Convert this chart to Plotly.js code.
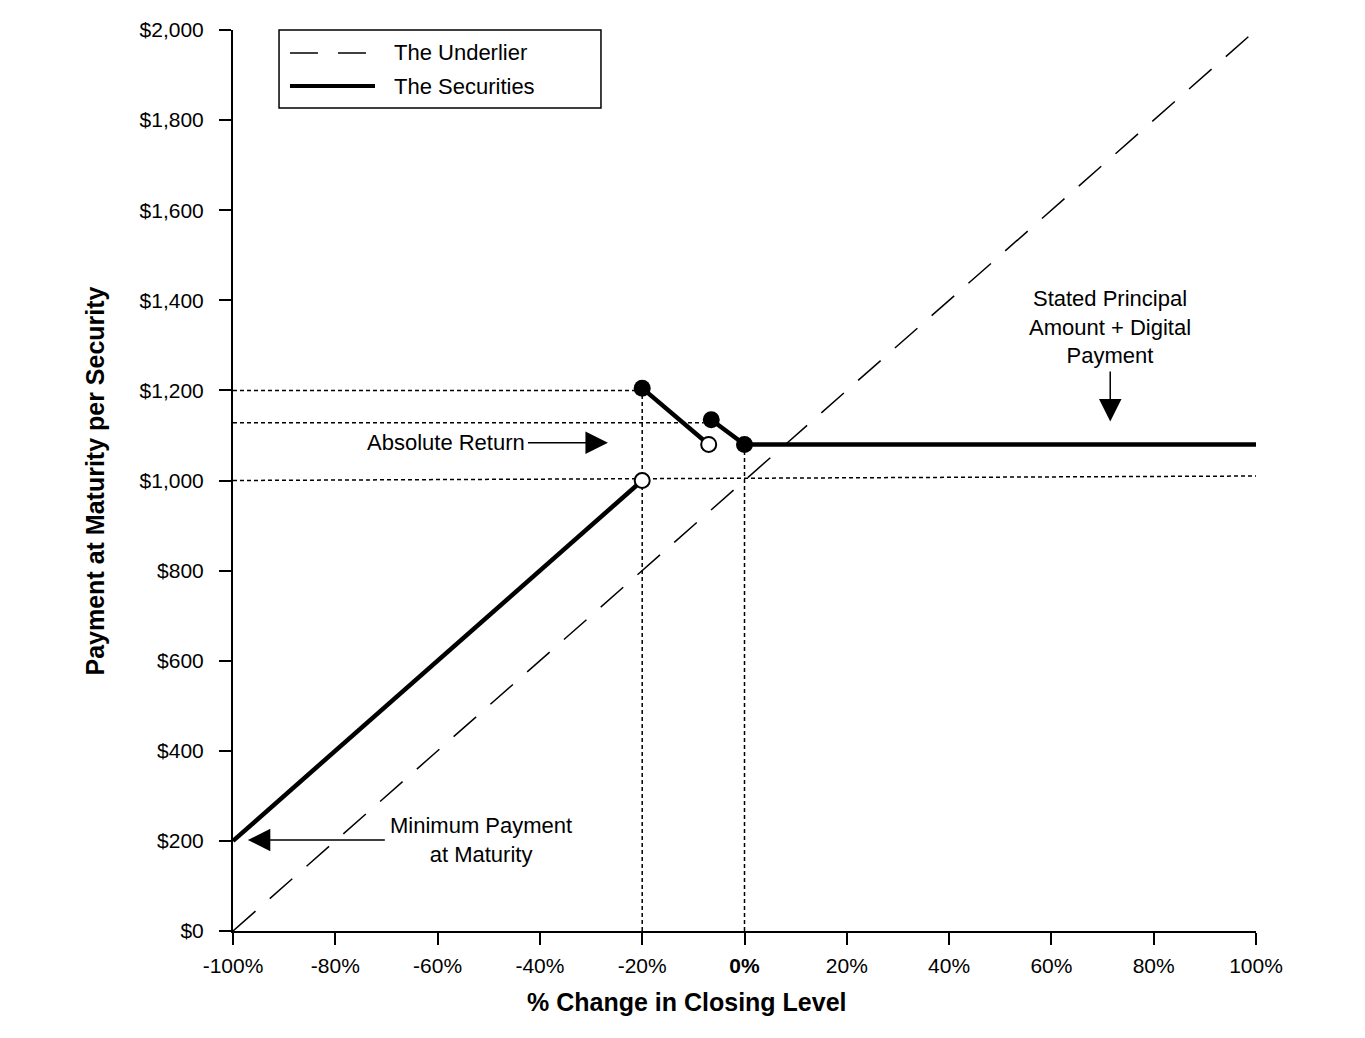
<!DOCTYPE html>
<html>
  <head>
    <meta charset="utf-8" />
    <title>Payment at Maturity per Security</title>
    <script src="https://cdn.plot.ly/plotly-3.0.1.min.js"></script>
    <style>
      body { margin: 0; padding: 0; background-color: white; }
      #graphDiv { width: 1365px; height: 1038px; }
    </style>
  </head>
  <body>
    <div id="graphDiv"></div>
    <script>
      // values (x in % change, y in $)
      const x_ticks = [-100, -80, -60, -40, -20, 0, 20, 40, 60, 80, 100];
      const x_tick_text = ["-100%", "-80%", "-60%", "-40%", "-20%", "<b>0%</b>", "20%", "40%", "60%", "80%", "100%"];
      const y_ticks = [0, 200, 400, 600, 800, 1000, 1200, 1400, 1600, 1800, 2000];
      const y_tick_text = ["$0", "$200", "$400", "$600", "$800", "$1,000", "$1,200", "$1,400", "$1,600", "$1,800", "$2,000"];

      const underlier_x = [-100, 100];
      const underlier_y = [0, 2000];

      const sec_low_x = [-100, -20];
      const sec_low_y = [200, 1000];
      const sec_abs1_x = [-20, -7];
      const sec_abs1_y = [1205, 1080];
      const sec_abs2_x = [-6.5, 0];
      const sec_abs2_y = [1135, 1080];
      const sec_high_x = [0, 100];
      const sec_high_y = [1080, 1080];

      const filled_x = [-20, -6.5, 0];
      const filled_y = [1205, 1135, 1080];
      const open_x = [-20, -7];
      const open_y = [1000, 1080];

      // dotted guide lines
      const guides = [
        { x: [-100, -20], y: [1200, 1200] },
        { x: [-100, -8], y: [1128, 1128] },
        { x: [-100, 100], y: [1000, 1010] },
        { x: [-20, -20], y: [0, 1205] },
        { x: [0, 0], y: [0, 1080] },
      ];

      const font_family = "Liberation Sans, Arial, Helvetica, sans-serif";
      const traces = [];

      for (const g of guides) {
        traces.push({
          x: g.x, y: g.y, mode: "lines",
          line: { color: "black", width: 1.5, dash: "4px,3px" },
          hoverinfo: "none", showlegend: false,
        });
      }

      traces.push({
        x: underlier_x, y: underlier_y, mode: "lines", name: "The Underlier",
        line: { color: "black", width: 1.5, dash: "30px,19px" },
        showlegend: false,
      });

      const sec_segments = [
        [sec_low_x, sec_low_y],
        [sec_abs1_x, sec_abs1_y],
        [sec_abs2_x, sec_abs2_y],
        [sec_high_x, sec_high_y],
      ];
      for (const [sx, sy] of sec_segments) {
        traces.push({
          x: sx, y: sy, mode: "lines", name: "The Securities",
          line: { color: "black", width: 4.5 },
          showlegend: false, cliponaxis: false,
        });
      }

      traces.push({
        x: open_x, y: open_y, mode: "markers",
        marker: { size: 15, color: "white", line: { color: "black", width: 2 } },
        showlegend: false, cliponaxis: false,
      });
      traces.push({
        x: filled_x, y: filled_y, mode: "markers",
        marker: { size: 17, color: "black" },
        showlegend: false, cliponaxis: false,
      });

      const tick_font = { family: font_family, size: 21, color: "black" };
      const note_font = { family: font_family, size: 22, color: "black" };
      const title_font = { family: font_family, size: 25, color: "black" };

      const layout = {
        width: 1365,
        height: 1038,
        margin: { l: 233, r: 109, t: 30, b: 107 },
        paper_bgcolor: "white",
        plot_bgcolor: "white",
        showlegend: false,
        xaxis: {
          range: [-100, 100],
          tickvals: x_ticks,
          ticktext: x_tick_text,
          tickfont: tick_font,
          ticks: "outside", ticklen: 12, tickwidth: 2, tickcolor: "black",
          ticklabelstandoff: 3,
          showline: true, linewidth: 2, linecolor: "black",
          showgrid: false, zeroline: false,
        },
        yaxis: {
          range: [0, 2000],
          tickvals: y_ticks,
          ticktext: y_tick_text,
          tickfont: tick_font,
          ticks: "outside", ticklen: 12, tickwidth: 2, tickcolor: "black",
          ticklabelstandoff: 11,
          showline: true, linewidth: 2, linecolor: "black",
          showgrid: false, zeroline: false,
        },
        shapes: [
          // legend box
          { type: "rect", xref: "paper", yref: "paper", x0: 0.045, x1: 0.3597, y0: 0.9134, y1: 1.0,
            line: { color: "black", width: 1.5 }, fillcolor: "white", layer: "above" },
          { type: "line", xref: "paper", yref: "paper", x0: 0.0557, x1: 0.1388, y0: 0.9745, y1: 0.9745,
            line: { color: "black", width: 1.5, dash: "28px,20px" } },
          { type: "line", xref: "paper", yref: "paper", x0: 0.0557, x1: 0.1388, y0: 0.9378, y1: 0.9378,
            line: { color: "black", width: 4 } },
        ],
        annotations: [
          { xref: "paper", yref: "paper", x: 0.1554, y: 0.9745, xanchor: "left", yanchor: "middle",
            text: "The Underlier", showarrow: false, font: note_font },
          { xref: "paper", yref: "paper", x: 0.1554, y: 0.9378, xanchor: "left", yanchor: "middle",
            text: "The Securities", showarrow: false, font: note_font },
          // axis titles
          { xref: "paper", yref: "paper", x: 0.4438, y: -0.0788, xanchor: "center", yanchor: "middle",
            text: "<b>% Change in Closing Level</b>", showarrow: false, font: title_font },
          { xref: "paper", yref: "paper", x: -0.1349, y: 0.5, xanchor: "center", yanchor: "middle",
            textangle: -90, text: "<b>Payment at Maturity per Security</b>", showarrow: false,
            font: title_font },
          // callouts
          { x: -26.7, y: 1084, ax: -80, ay: 0, xanchor: "right", yanchor: "middle",
            text: "Absolute Return", font: note_font, borderpad: 2,
            showarrow: true, arrowhead: 2, arrowsize: 3, arrowwidth: 1.5, arrowcolor: "black" },
          { x: -97.1, y: 202, ax: 137, ay: 0, xanchor: "left", yanchor: "middle", align: "center",
            text: "Minimum Payment<br>at Maturity", font: note_font, borderpad: 4, yshift: 0,
            showarrow: true, arrowhead: 2, arrowsize: 3, arrowwidth: 1.5, arrowcolor: "black" },
          { x: 71.5, y: 1131, ax: 0, ay: -50, xanchor: "center", yanchor: "bottom", align: "center",
            text: "Stated Principal<br>Amount + Digital<br>Payment", font: note_font, borderpad: 2,
            showarrow: true, arrowhead: 2, arrowsize: 3, arrowwidth: 1.5, arrowcolor: "black" },
        ],
      };

      Plotly.newPlot("graphDiv", traces, layout, { displayModeBar: false, staticPlot: true });
    </script>
  </body>
</html>
